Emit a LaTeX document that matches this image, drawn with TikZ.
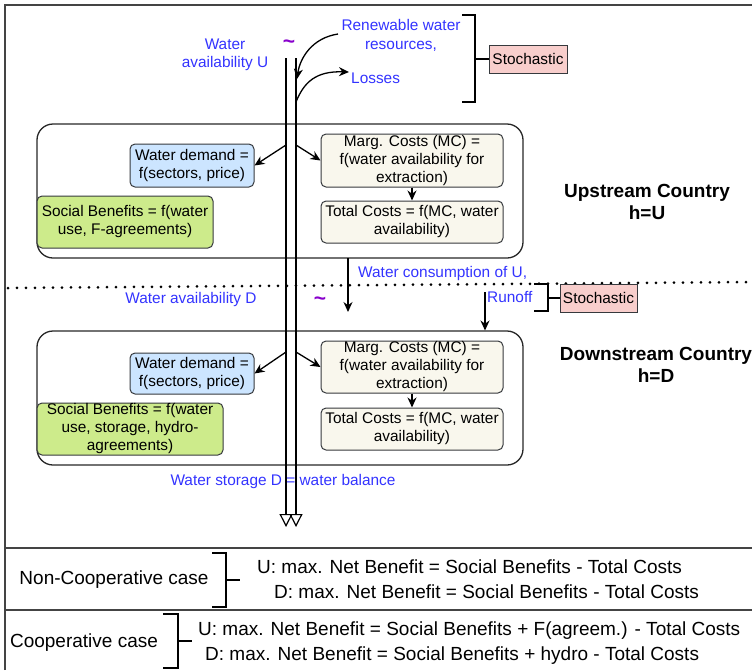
\documentclass[tikz,border=0pt]{standalone}
\usepackage{fontspec}
\setmainfont{Liberation Sans}
\usetikzlibrary{arrows.meta}
\definecolor{txtblue}{HTML}{3333FF}
\definecolor{tildecol}{HTML}{8800CC}
\definecolor{bxstroke}{HTML}{36393D}
\definecolor{bxblue}{HTML}{CCE5FF}
\definecolor{bxgreen}{HTML}{CDEB8B}
\definecolor{bxbeige}{HTML}{F9F7ED}
\definecolor{bxpink}{HTML}{F8CECC}
\definecolor{framecol}{HTML}{444444}
\newcommand\myfs[2]{\fontsize{#1}{#2}\selectfont}
\tikzset{
  fbox/.style={draw=bxstroke, line width=1pt, rounded corners=5pt, inner sep=0pt, align=center, font=\myfs{15.4}{18}},
  cont/.style={draw=black!85, line width=1.3pt, rounded corners=16pt, inner sep=0pt},
  lbl/.style={text=txtblue, font=\myfs{15.4}{18.5}, inner sep=0pt, align=center},
  til/.style={text=tildecol, font=\myfs{21}{21}\bfseries, inner sep=0pt},
  arr/.style={line width=1.3pt, -{Stealth[length=10pt,width=9pt]}},
  brk/.style={line width=2.5pt},
  flow/.style={line width=1.3pt, -{Triangle[open, length=13pt, width=13pt, line width=1.2pt]}},
  title/.style={font=\myfs{19}{22.5}\bfseries, align=center, inner sep=0pt},
  eq/.style={font=\myfs{19}{22}, inner sep=0pt, anchor=west},
  framel/.style={draw=framecol, line width=2pt},
}
\begin{document}
\begin{tikzpicture}[x=1pt,y=-1pt]
\useasboundingbox (0,0) rectangle (752,670);
% outer frame and separators
\draw[framel] (5,670) -- (5,5) -- (752,5);
\draw[framel] (5,548) -- (752,548);
\draw[framel] (5,610) -- (752,610);

% dotted border line
\draw[line width=3pt, line cap=round, dash pattern=on 0pt off 9pt] (8,288) -- (752,282);

% containers
\node[cont, minimum width=486pt, minimum height=134pt] (contU) at (280,191) {};
\node[cont, minimum width=486pt, minimum height=134pt] (contD) at (280,398) {};

% upstream boxes
\node[fbox, fill=bxblue, minimum width=124pt, minimum height=43pt] (wdU) at (192,165.5) {Water demand =\\f(sectors, price)};
\node[fbox, fill=bxgreen, minimum width=176pt, minimum height=52pt] (sbU) at (125,222) {Social Benefits = f(water\\use, F-agreements)};
\node[fbox, fill=bxbeige, minimum width=182pt, minimum height=53pt] (mcU) at (412,160.5) {Marg. Costs (MC) =\\f(water availability for\\extraction)};
\node[fbox, fill=bxbeige, minimum width=182pt, minimum height=42pt] (tcU) at (412,222) {Total Costs = f(MC, water\\availability)};

% downstream boxes
\node[fbox, fill=bxblue, minimum width=124pt, minimum height=41pt] (wdD) at (192,373.5) {Water demand =\\f(sectors, price)};
\node[fbox, fill=bxgreen, minimum width=186pt, minimum height=52pt] (sbD) at (130,429) {Social Benefits = f(water\\use, storage, hydro-\\agreements)};
\node[fbox, fill=bxbeige, minimum width=182pt, minimum height=52pt] (mcD) at (412,367) {Marg. Costs (MC) =\\f(water availability for\\extraction)};
\node[fbox, fill=bxbeige, minimum width=182pt, minimum height=42pt] (tcD) at (412,429) {Total Costs = f(MC, water\\availability)};

\draw[arr] (mcU.south) -- (tcU.north);
\draw[arr] (mcD.south) -- (tcD.north);

% labels
\node[lbl] (wauL) at (225,55) {Water\\availability U};
\node[til] (tilU) at (289,44) {\char`~};
\node[lbl] (renL) at (401,35.5) {Renewable water\\resources,};
\node[lbl, anchor=west] (lossL) at (351,78) {Losses};
\node[lbl] (wadL) at (191,300) {Water availability D};
\node[til] (tilD) at (320,301) {\char`~};
\node[lbl, anchor=west] (wcL) at (358,274) {Water consumption of U,};
\node[lbl, anchor=west] (runL) at (487,297) {Runoff};
\node[lbl] (wsL) at (283,482) {Water storage D = water balance};

% stochastic boxes
\node[fbox, fill=bxpink, rounded corners=0pt, minimum width=78pt, minimum height=28pt] (st1) at (528,59) {Stochastic};
\node[fbox, fill=bxpink, rounded corners=0pt, minimum width=77pt, minimum height=28pt] (st2) at (598.5,298) {Stochastic};

% brackets
\coordinate (b1t) at (462,15); \coordinate (b1m) at (475,59); \coordinate (b1b) at (462,102);
\draw[brk] (b1t) -- (475,15) -- (475,102) -- (b1b);
\draw[brk] (b1m) -- (st1.west);
\coordinate (b2t) at (534,284); \coordinate (b2m) at (548,298); \coordinate (b2b) at (534,311);
\draw[brk] (b2t) -- (548,284) -- (548,311) -- (b2b);
\draw[brk] (b2m) -- (st2.west);

% main double flow lines
\coordinate (Ltop) at (286,58); \coordinate (Lbot) at (286,527);
\coordinate (Rtop) at (296,58); \coordinate (Rbot) at (296,527);
\draw[flow] (Ltop) -- (Lbot);
\draw[flow] (Rtop) -- (Rbot);

% inflow / losses
\coordinate (renS) at (338,34); \coordinate (renE) at (297,79);
\draw[arr] (renS) .. controls (312,38) and (300,58) .. (renE);
\coordinate (lossS) at (296,102); \coordinate (lossE) at (349,72);
\draw[arr] (lossS) .. controls (304,82) and (316,71) .. (lossE);

% branch arrows
\coordinate (lU) at (286,145); \coordinate (rU) at (296,145);
\draw[arr] (lU) -- (wdU.east);
\draw[arr] (rU) -- (mcU.west);
\coordinate (lD) at (286,352); \coordinate (rD) at (296,352);
\draw[arr] (lD) -- (wdD.east);
\draw[arr] (rD) -- (mcD.west);

% consumption and runoff
\coordinate (wcS) at (348,258); \coordinate (wcE) at (348,312);
\draw[arr] (wcS) -- (wcE);
\coordinate (roS) at (485,292);
\draw[arr] (roS) -- (485,330.5);

% country titles
\node[title] (upT) at (647,202) {Upstream Country\\h=U};
\node[title] (downT) at (656,365) {Downstream Country\\h=D};

% bottom cases
\node[font=\myfs{19}{22}, inner sep=0pt] (ncL) at (114,580) {Non-Cooperative case};
\coordinate (c1t) at (212,553); \coordinate (c1m) at (226,580); \coordinate (c1b) at (212,607);
\draw[brk] (c1t) -- (226,553) -- (226,607) -- (c1b);
\coordinate (c1e) at (240,580);
\draw[brk] (c1m) -- (c1e);
\node[eq] (ncU) at (257,567) {U: max. Net Benefit = Social Benefits - Total Costs};
\node[eq] (ncD) at (274,592) {D: max. Net Benefit = Social Benefits - Total Costs};

\node[font=\myfs{19}{22}, inner sep=0pt] (cL) at (84,643) {Cooperative case};
\coordinate (c2t) at (163,614); \coordinate (c2m) at (178,641); \coordinate (c2b) at (163,668);
\draw[brk] (c2t) -- (178,614) -- (178,668) -- (c2b);
\coordinate (c2e) at (192,641);
\draw[brk] (c2m) -- (c2e);
\node[eq] (cU) at (198,631) {U: max. Net Benefit = Social Benefits + F(agreem.) - Total Costs};
\node[eq] (cD) at (205,656) {D: max. Net Benefit = Social Benefits + hydro - Total Costs};
\end{tikzpicture}
\end{document}
